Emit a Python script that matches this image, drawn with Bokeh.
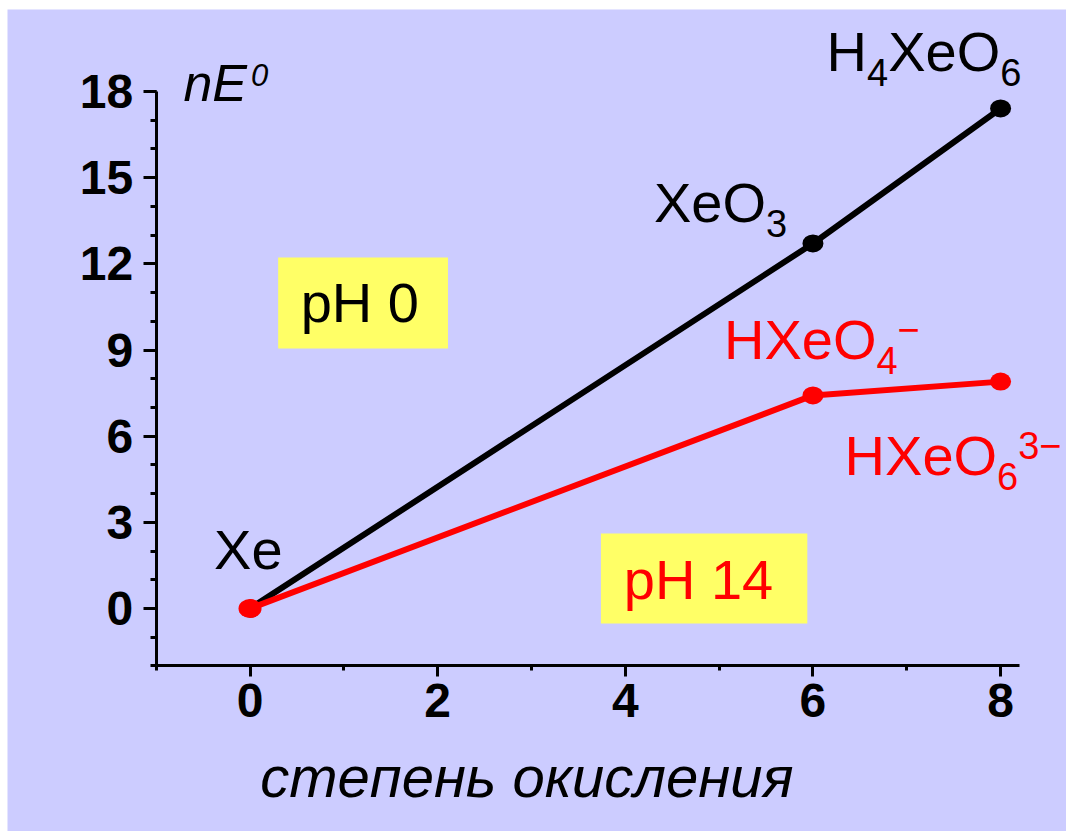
from bokeh.plotting import figure
from bokeh.models import Label, BoxAnnotation, SingleIntervalTicker
from bokeh.embed import file_html
from bokeh.resources import INLINE

# ---------------- data ----------------
ox_states = [0, 6, 8]
acid_nE = [0.0, 12.71, 17.41]          # pH 0
base_nE = [0.0, 7.42, 7.90]            # pH 14
acid_species = [[("Xe", "n")],
                [("XeO", "n"), ("3", "sub")],
                [("H", "n"), ("4", "sub"), ("XeO", "n"), ("6", "sub")]]
base_species = [None,
                [("HXeO", "n"), ("4", "sub"), ("\u2212", "sup")],
                [("HXeO", "n"), ("6", "sub"), ("3\u2212", "sup")]]
x_ticks = [0, 2, 4, 6, 8]
y_ticks = [0, 3, 6, 9, 12, 15, 18]
x_title = "степень окисления"
y_title = [("nE", "n"), ("0", "sup")]
ph_labels = ["pH 0", "pH 14"]

# ---------------- style / layout ----------------
FONT = "Liberation Sans"
BG = "#CCCCFF"
YELLOW = "#FFFF66"
RED = "#FF0000"
W = {'H': 0.722, 'X': 0.667, 'e': 0.556, 'O': 0.778, '\u2212': 0.584, 'n': 0.556, 'E': 0.667}
BASE_FIX = 0.37   # em shift so that the label's baseline sits where intended

# the frame covers the whole lavender area; the axes sit inside it
PX_X, PX_Y = 93.82, 28.722               # pixels per unit
FRAME_W, FRAME_H = 1059, 822
X0 = -2.585
Y1 = 20.856
x_rng = (X0, X0 + FRAME_W / PX_X)
y_rng = (Y1 - FRAME_H / PX_Y, Y1)


def text_width(s, size):
    return sum(W.get(c, 0.556) for c in s) * size


p = figure(width=1066, height=831, x_range=x_rng, y_range=y_rng,
           output_backend="svg", toolbar_location=None,
           min_border_left=7, min_border_right=0,
           min_border_top=9, min_border_bottom=0)
p.background_fill_color = BG
p.border_fill_color = "white"
p.outline_line_color = None
p.xgrid.visible = False
p.ygrid.visible = False

p.xaxis.ticker = SingleIntervalTicker(interval=2, num_minor_ticks=2)
p.yaxis.ticker = SingleIntervalTicker(interval=3, num_minor_ticks=3)
p.xaxis.fixed_location = -2
p.yaxis.fixed_location = -1
p.xaxis.bounds = (-1, 8.2)
p.yaxis.bounds = (-2, 18)
for ax in (p.xaxis, p.yaxis):
    ax.axis_line_width = 3
    ax.axis_line_color = "black"
    ax.major_tick_line_width = 3
    ax.minor_tick_line_width = 3
    ax.major_tick_line_color = "black"
    ax.minor_tick_line_color = "black"
    ax.major_tick_in = 0
    ax.minor_tick_in = 0
    ax.major_label_text_font = FONT
    ax.major_label_text_font_style = "bold"
    ax.major_label_text_font_size = "48px"
    ax.major_label_text_color = "black"
p.xaxis.major_tick_out = 11
p.xaxis.minor_tick_out = 5
p.xaxis.major_label_standoff = 7
p.yaxis.major_tick_out = 13
p.yaxis.minor_tick_out = 6
p.yaxis.major_label_standoff = 10


def add_text(x, y, txt, size, color, dx=0, dy=0, style="normal", align="left"):
    p.add_layout(Label(x=x, y=y, x_offset=dx, y_offset=dy + BASE_FIX * size, text=txt,
                       text_font=FONT, text_font_size=f"{size}px", text_font_style=style,
                       text_color=color, text_align=align, text_baseline="alphabetic"))


# pH boxes
boxes = [dict(left=0.30, right=2.11, bottom=9.05, top=12.22, tx=1.17, ty=9.92, color="black"),
         dict(left=3.74, right=5.94, bottom=-0.52, top=2.61, tx=4.78, ty=0.28, color=RED)]
for b, txt in zip(boxes, ph_labels):
    p.add_layout(BoxAnnotation(left=b["left"], right=b["right"], bottom=b["bottom"], top=b["top"],
                               fill_color=YELLOW, fill_alpha=1.0, line_color=None, level="underlay"))
    add_text(b["tx"], b["ty"], txt, 56, b["color"], align="center")

# lines and points
p.line(ox_states, acid_nE, line_width=6, line_color="black")
p.ellipse(ox_states, acid_nE, width=21, height=18, width_units="screen", height_units="screen",
          fill_color="black", line_color=None)
p.line(ox_states, base_nE, line_width=6, line_color=RED)
p.ellipse(ox_states[:1], base_nE[:1], width=23, height=19, width_units="screen", height_units="screen",
          fill_color=RED, line_color=None)
p.ellipse(ox_states[1:], base_nE[1:], width=21, height=18, width_units="screen", height_units="screen",
          fill_color=RED, line_color=None)


def add_formula(x, y, parts, dx, dy, color, main=56, small=38, style="normal", sup=17):
    cx = dx
    for txt, kind in parts:
        size = main if kind == "n" else small
        off = {"n": 0, "sub": -14, "sup": sup}[kind]
        add_text(x, y, txt, size, color, dx=cx, dy=dy + off, style=style)
        cx += text_width(txt, size) + (4 if style == "italic" else 0)


acid_offsets = [(-36, 38), (-159, 20), (-174, 36)]
base_offsets = [None, (-89, 35), (-156, -95)]
for xv, yv, parts, off in zip(ox_states, acid_nE, acid_species, acid_offsets):
    add_formula(xv, yv, parts, off[0], off[1], "black")
for xv, yv, parts, off in zip(ox_states, base_nE, base_species, base_offsets):
    if parts:
        add_formula(xv, yv, parts, off[0], off[1], RED)

# axis titles
add_formula(-0.71, 17.62, y_title, 0, 0, "black", main=52, small=31, style="italic", sup=16)
add_text(2.95, -6.58, x_title, 58, "black", style="italic", align="center")

open("out.html", "w").write(file_html(p, INLINE))
